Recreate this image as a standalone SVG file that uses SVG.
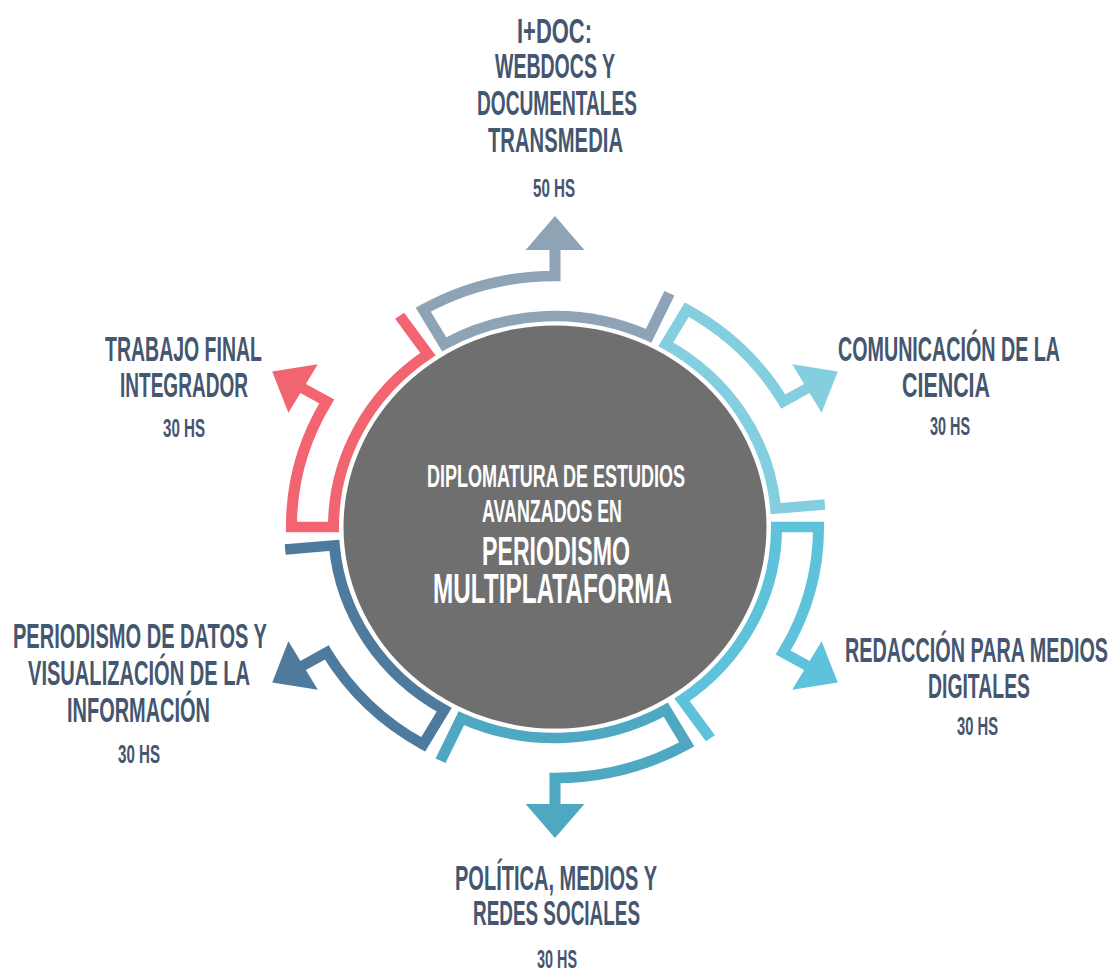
<svg xmlns="http://www.w3.org/2000/svg" width="1114" height="970" viewBox="0 0 1114 970">
<style>
.lbl{font-family:"Liberation Sans Narrow","Liberation Sans",Arial,sans-serif;font-weight:bold;fill:#45566f;font-size:35px}
.hs{font-size:25px}
.ctr{font-family:"Liberation Sans Narrow","Liberation Sans",Arial,sans-serif;font-weight:bold;fill:#ffffff}
.seg{fill:none;stroke-width:10.5;stroke-linejoin:miter;stroke-miterlimit:10}
</style>
<defs>
<g id="segShape">
<path class="seg" d="M109.0,-233.8 L89.2,-191.2 A211,211 0 0 0 -105.5,-182.7 L-125.5,-217.4 A251,251 0 0 1 0,-251 L0,-278"/>
<polygon points="-28,-277 28,-277 0,-311" stroke="none"/>
</g>
</defs>
<rect width="1114" height="970" fill="#ffffff"/>
<g id="center-node">
<ellipse cx="555" cy="527" rx="211.5" ry="201.5" fill="#6f6f6f"/>
<text class="ctr" font-size="31" x="427" y="487" textLength="258" lengthAdjust="spacingAndGlyphs">DIPLOMATURA DE ESTUDIOS</text>
<text class="ctr" font-size="31" x="482" y="522" textLength="140" lengthAdjust="spacingAndGlyphs">AVANZADOS EN</text>
<text class="ctr" font-size="41" x="482" y="565" textLength="148" lengthAdjust="spacingAndGlyphs">PERIODISMO</text>
<text class="ctr" font-size="42" x="433" y="603" textLength="239" lengthAdjust="spacingAndGlyphs">MULTIPLATAFORMA</text>
</g>
<g id="connectors" transform="translate(555,527) scale(1.05,1)">
<g transform="rotate(0)" fill="#8ea3b5" stroke="#8ea3b5"><use href="#segShape"/></g>
<g transform="rotate(60)" fill="#84cfdf" stroke="#84cfdf"><use href="#segShape"/></g>
<g transform="rotate(120)" fill="#5dc2da" stroke="#5dc2da"><use href="#segShape"/></g>
<g transform="rotate(180)" fill="#4ea8c1" stroke="#4ea8c1"><use href="#segShape"/></g>
<g transform="rotate(240)" fill="#4d7a9d" stroke="#4d7a9d"><use href="#segShape"/></g>
<g transform="rotate(300)" fill="#f26470" stroke="#f26470"><use href="#segShape"/></g>
</g>
<g id="node-idoc">
<text class="lbl" x="517" y="43" textLength="75" lengthAdjust="spacingAndGlyphs">I+DOC:</text>
<text class="lbl" x="495" y="78" textLength="120" lengthAdjust="spacingAndGlyphs">WEBDOCS Y</text>
<text class="lbl" x="477" y="115" textLength="160" lengthAdjust="spacingAndGlyphs">DOCUMENTALES</text>
<text class="lbl" x="488" y="152" textLength="135" lengthAdjust="spacingAndGlyphs">TRANSMEDIA</text>
<text class="lbl hs" x="533" y="197" textLength="42" lengthAdjust="spacingAndGlyphs">50 HS</text>
</g>
<g id="node-comunicacion">
<text class="lbl" x="838" y="361" textLength="222" lengthAdjust="spacingAndGlyphs">COMUNICACIÓN DE LA</text>
<text class="lbl" x="902" y="397" textLength="88" lengthAdjust="spacingAndGlyphs">CIENCIA</text>
<text class="lbl hs" x="930" y="435" textLength="40" lengthAdjust="spacingAndGlyphs">30 HS</text>
</g>
<g id="node-redaccion">
<text class="lbl" x="845" y="662" textLength="263" lengthAdjust="spacingAndGlyphs">REDACCIÓN PARA MEDIOS</text>
<text class="lbl" x="928" y="698" textLength="102" lengthAdjust="spacingAndGlyphs">DIGITALES</text>
<text class="lbl hs" x="957" y="735" textLength="41" lengthAdjust="spacingAndGlyphs">30 HS</text>
</g>
<g id="node-politica">
<text class="lbl" x="455" y="890" textLength="202" lengthAdjust="spacingAndGlyphs">POLÍTICA, MEDIOS Y</text>
<text class="lbl" x="473" y="925" textLength="167" lengthAdjust="spacingAndGlyphs">REDES SOCIALES</text>
<text class="lbl hs" x="537" y="968" textLength="40" lengthAdjust="spacingAndGlyphs">30 HS</text>
</g>
<g id="node-datos">
<text class="lbl" x="13" y="648" textLength="254" lengthAdjust="spacingAndGlyphs">PERIODISMO DE DATOS Y</text>
<text class="lbl" x="28" y="685" textLength="222" lengthAdjust="spacingAndGlyphs">VISUALIZACIÓN DE LA</text>
<text class="lbl" x="67" y="722" textLength="143" lengthAdjust="spacingAndGlyphs">INFORMACIÓN</text>
<text class="lbl hs" x="118" y="763" textLength="42" lengthAdjust="spacingAndGlyphs">30 HS</text>
</g>
<g id="node-trabajo">
<text class="lbl" x="105" y="361" textLength="157" lengthAdjust="spacingAndGlyphs">TRABAJO FINAL</text>
<text class="lbl" x="120" y="397" textLength="128" lengthAdjust="spacingAndGlyphs">INTEGRADOR</text>
<text class="lbl hs" x="163" y="437" textLength="42" lengthAdjust="spacingAndGlyphs">30 HS</text>
</g>
</svg>
